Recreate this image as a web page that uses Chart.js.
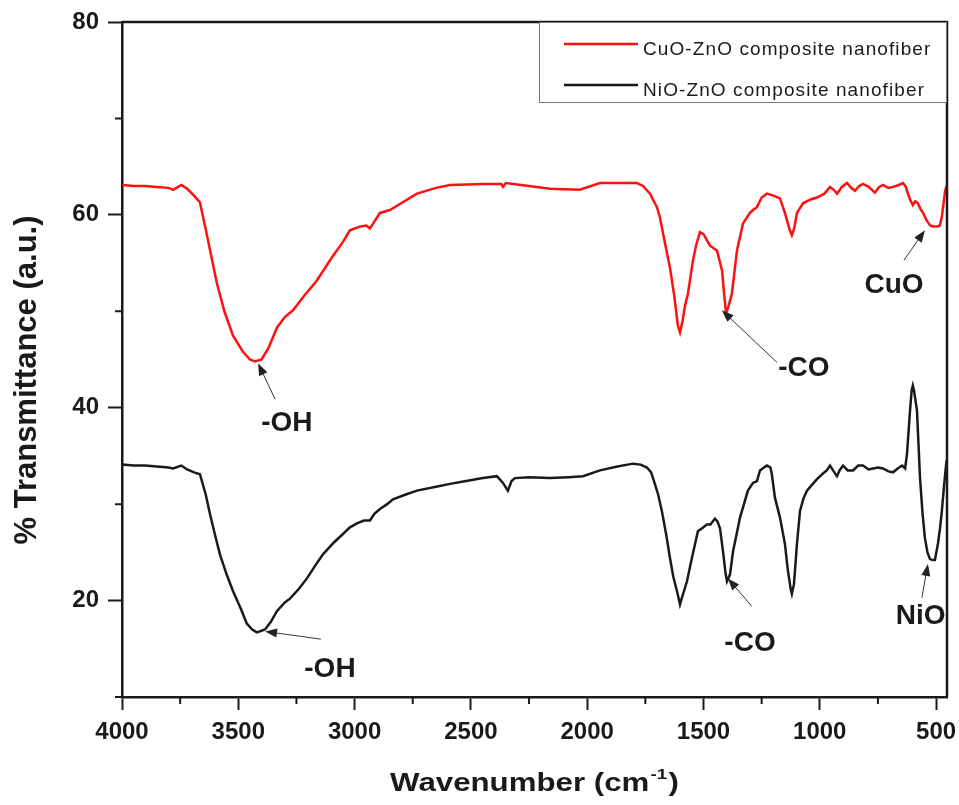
<!DOCTYPE html>
<html>
<head>
<meta charset="utf-8">
<script src="https://cdn.jsdelivr.net/npm/chart.js@4.4.0/dist/chart.umd.min.js"></script>
<style>
    html, body { margin: 0; padding: 0; background: #fff; }
    #wrap { width: 959px; height: 805px; }
</style>
</head>
<body>
<div id="wrap"><canvas id="ftirChart" width="959" height="805"></canvas></div>
<script>
// Seri adları ve renkleri
const seriesNames = ['CuO-ZnO composite nanofiber', 'NiO-ZnO composite nanofiber'];
const seriesColors = ['#ff1010', '#1a1a1a'];

// CuO-ZnO eğrisi (dalga sayısı, % geçirgenlik)
const cuoWn = [4000, 3950, 3900, 3850, 3800, 3780, 3745, 3720, 3690, 3665, 3640, 3610, 3592, 3560, 3523, 3480, 3450, 3428, 3400, 3370,
    3334, 3300, 3265, 3220, 3162, 3100, 3050, 3020, 2975, 2950, 2934, 2915, 2891, 2848, 2800, 2732, 2650, 2590, 2450, 2370,
    2362, 2350, 2250, 2160, 2031, 1945, 1850, 1786, 1760, 1730, 1700, 1687, 1665, 1644, 1625, 1610, 1601, 1590, 1580, 1567,
    1545, 1530, 1515, 1500, 1472, 1442, 1420, 1410, 1403, 1395, 1378, 1356, 1330, 1300, 1287, 1270, 1250, 1227, 1200, 1171,
    1150, 1130, 1120, 1110, 1098, 1072, 1040, 1012, 980, 956, 940, 926, 905, 883, 865, 849, 830, 814, 790, 763,
    745, 728, 705, 685, 660, 642, 630, 621, 610, 600, 590, 578, 567, 556, 540, 525, 513, 495, 484, 475,
    470, 461, 455];
const cuoT = [63.1, 63.0, 63.0, 62.9, 62.8, 62.6, 63.1, 62.7, 62.0, 61.3, 58.5, 55.0, 52.9, 50.0, 47.5, 45.8, 45.0, 44.8, 45.0, 46.2,
    48.3, 49.4, 50.1, 51.5, 53.2, 55.5, 57.2, 58.4, 58.8, 58.9, 58.6, 59.3, 60.2, 60.5, 61.2, 62.2, 62.8, 63.1, 63.2, 63.2,
    62.9, 63.3, 63.0, 62.7, 62.6, 63.3, 63.3, 63.3, 63.0, 62.2, 60.8, 59.7, 57.0, 54.5, 51.5, 48.5, 47.8, 49.0, 50.5, 51.8,
    55.3, 57.0, 58.2, 58.0, 56.8, 56.3, 54.2, 51.5, 49.8, 50.3, 51.8, 56.3, 59.1, 60.2, 60.5, 60.8, 61.8, 62.2, 62.0, 61.7,
    60.2, 58.5, 57.9, 58.6, 60.2, 61.2, 61.6, 61.8, 62.2, 62.9, 62.6, 62.2, 62.9, 63.3, 62.8, 62.5, 63.0, 63.2, 62.9, 62.3,
    62.9, 63.1, 62.8, 62.9, 63.1, 63.3, 62.9, 62.2, 61.5, 61.0, 61.4, 61.2, 60.6, 60.2, 59.4, 58.9, 58.8, 58.8, 58.9, 59.8,
    60.8, 62.5, 63.0];

// NiO-ZnO eğrisi
const nioWn = [4000, 3950, 3900, 3850, 3800, 3780, 3745, 3720, 3690, 3665, 3640, 3622, 3600, 3579, 3550, 3523, 3490, 3463, 3440, 3420,
    3385, 3360, 3334, 3300, 3278, 3240, 3205, 3170, 3136, 3090, 3050, 3020, 2990, 2960, 2934, 2915, 2891, 2860, 2835, 2780,
    2732, 2650, 2590, 2520, 2448, 2388, 2362, 2341, 2325, 2311, 2250, 2160, 2080, 2018, 1945, 1870, 1803, 1770, 1743, 1725,
    1709, 1695, 1679, 1660, 1644, 1630, 1614, 1601, 1590, 1571, 1550, 1535, 1524, 1500, 1485, 1470, 1451, 1440, 1429, 1416,
    1405, 1399, 1386, 1373, 1355, 1343, 1320, 1309, 1287, 1270, 1257, 1240, 1227, 1212, 1206, 1193, 1171, 1150, 1137, 1125,
    1120, 1111, 1098, 1085, 1070, 1055, 1030, 1012, 985, 970, 956, 940, 926, 915, 900, 880, 857, 835, 814, 790,
    771, 750, 728, 705, 685, 665, 646, 633, 625, 612, 605, 600, 595, 582, 569, 558, 548, 537, 526, 515,
    505, 492, 483, 475, 468, 461, 455];
const nioT = [34.1, 34.0, 34.0, 33.9, 33.8, 33.7, 34.0, 33.6, 33.3, 33.1, 31.0, 29.0, 26.8, 24.8, 22.7, 21.0, 19.2, 17.6, 17.0, 16.7,
    17.0, 17.8, 18.9, 19.8, 20.2, 21.2, 22.3, 23.6, 24.8, 26.0, 26.9, 27.6, 28.0, 28.3, 28.3, 29.0, 29.5, 30.0, 30.5, 31.0,
    31.4, 31.8, 32.1, 32.4, 32.7, 32.9, 32.2, 31.4, 32.4, 32.7, 32.8, 32.7, 32.8, 32.9, 33.5, 33.9, 34.2, 34.1, 33.8, 33.3,
    32.1, 31.0, 29.3, 26.8, 24.4, 22.5, 21.0, 19.6, 20.5, 22.0, 24.4, 26.0, 27.2, 27.6, 27.9, 27.9, 28.5, 28.2, 27.5, 25.1,
    22.8, 22.0, 22.7, 25.1, 27.2, 28.6, 30.5, 31.4, 32.2, 32.4, 33.5, 33.8, 34.0, 33.8, 33.1, 30.7, 28.6, 25.9, 23.1, 21.2,
    20.7, 21.7, 25.9, 29.3, 30.6, 31.4, 32.1, 32.6, 33.2, 33.5, 34.0, 33.4, 32.9, 33.5, 34.0, 33.5, 33.5, 34.0, 34.0, 33.6,
    33.7, 33.8, 33.7, 33.4, 33.3, 33.7, 34.0, 33.7, 35.2, 39.7, 41.8, 42.3, 41.8, 39.7, 32.7, 29.0, 26.5, 25.0, 24.3, 24.2,
    24.2, 25.9, 27.5, 29.3, 31.3, 33.1, 34.5];

// Eksen ölçekleri ve tik değerleri
const xMin = 453, xMax = 4000;
const yMin = 10, yMax = 80;
const xTicks = [4000, 3750, 3500, 3250, 3000, 2750, 2500, 2250, 2000, 1750, 1500, 1250, 1000, 750, 500];
const yTicks = [10, 20, 30, 40, 50, 60, 70, 80];

// Eksen başlıkları
const xTitle = 'Wavenumber (cm';
const xTitleSup = '-1';
const yTitle = '% Transmittance (a.u.)';

// Pik etiketleri: metin, ok ucu, ok kuyruğu, metin konumu (veri koordinatında)
const noteLabels = ['-OH', '-OH', '-CO', '-CO', 'CuO', 'NiO'];
const noteTip = [[3415, 44.6], [3385, 16.8], [1421, 50.1], [1395, 22.3], [548, 58.4], [535, 23.8]];
const noteTail = [[3342, 40.9], [3145, 16.0], [1184, 44.7], [1292, 19.4], [638, 55.3], [561, 20.3]];
const noteText = [[3291, 38.4], [3106, 12.9], [1068, 44.1], [1300, 15.6], [681, 52.7], [566, 18.4]];

const FONT = '"Liberation Sans", Arial, sans-serif';
Chart.defaults.font.family = FONT;
Chart.defaults.color = '#1a1a1a';

function toPoints(xs, ys) {
    return xs.map((x, i) => ({ x: x, y: ys[i] }));
}

// Ok çiz
function drawArrow(ctx, x1, y1, x2, y2) {
    const ang = Math.atan2(y2 - y1, x2 - x1);
    const len = 12, half = 4.5;
    ctx.strokeStyle = '#333';
    ctx.fillStyle = '#222';
    ctx.lineWidth = 1;
    ctx.beginPath();
    ctx.moveTo(x1, y1);
    ctx.lineTo(x2 - Math.cos(ang) * len * 0.8, y2 - Math.sin(ang) * len * 0.8);
    ctx.stroke();
    ctx.beginPath();
    ctx.moveTo(x2, y2);
    ctx.lineTo(x2 - Math.cos(ang) * len + Math.sin(ang) * half, y2 - Math.sin(ang) * len - Math.cos(ang) * half);
    ctx.lineTo(x2 - Math.cos(ang) * len - Math.sin(ang) * half, y2 - Math.sin(ang) * len + Math.cos(ang) * half);
    ctx.closePath();
    ctx.fill();
}

// Çerçeve, ara tikler, etiketler, lejant ve başlıklar
const extrasPlugin = {
    id: 'extras',
    afterDraw(chart) {
        const ctx = chart.ctx;
        const area = chart.chartArea;
        const xs = chart.scales.x;
        const ys = chart.scales.y;
        ctx.save();

        // üst ve sağ çerçeve
        ctx.strokeStyle = '#1a1a1a';
        ctx.lineWidth = 2.5;
        ctx.beginPath();
        ctx.moveTo(area.left, area.top);
        ctx.lineTo(area.right, area.top);
        ctx.lineTo(area.right, area.bottom);
        ctx.stroke();

        // ara tikler
        ctx.lineWidth = 2;
        ctx.beginPath();
        xTicks.filter(v => v % 500 !== 0).forEach(v => {
            const px = xs.getPixelForValue(v);
            ctx.moveTo(px, area.bottom);
            ctx.lineTo(px, area.bottom + 7);
        });
        yTicks.filter(v => v % 20 !== 0).forEach(v => {
            const py = ys.getPixelForValue(v);
            ctx.moveTo(area.left, py);
            ctx.lineTo(area.left - 7, py);
        });
        ctx.stroke();

        // pik etiketleri
        noteLabels.forEach((label, i) => {
            drawArrow(ctx,
                xs.getPixelForValue(noteTail[i][0]), ys.getPixelForValue(noteTail[i][1]),
                xs.getPixelForValue(noteTip[i][0]), ys.getPixelForValue(noteTip[i][1]));
            ctx.fillStyle = '#1a1a1a';
            ctx.font = 'bold 28px ' + FONT;
            ctx.textAlign = 'center';
            ctx.textBaseline = 'middle';
            ctx.fillText(label, xs.getPixelForValue(noteText[i][0]), ys.getPixelForValue(noteText[i][1]));
        });

        // lejant
        const boxW = 408, boxH = 80;
        const bx = area.right - boxW, by = area.top;
        ctx.fillStyle = '#fff';
        ctx.fillRect(bx, by, boxW, boxH);
        ctx.strokeStyle = '#777';
        ctx.lineWidth = 1;
        ctx.strokeRect(bx + 0.5, by + 0.5, boxW - 1, boxH);
        chart.data.datasets.forEach((ds, i) => {
            const ly = by + 22 + i * 41;
            ctx.strokeStyle = ds.borderColor;
            ctx.lineWidth = 2.5;
            ctx.beginPath();
            ctx.moveTo(bx + 25, ly);
            ctx.lineTo(bx + 99, ly);
            ctx.stroke();
            ctx.fillStyle = '#1a1a1a';
            ctx.font = '19px ' + FONT;
            ctx.textAlign = 'left';
            ctx.textBaseline = 'middle';
            if ('letterSpacing' in ctx) ctx.letterSpacing = '1.1px';
            ctx.fillText(ds.label, bx + 104, ly + 6);
            if ('letterSpacing' in ctx) ctx.letterSpacing = '0px';
        });

        // x ekseni başlığı (üst simgeli)
        ctx.fillStyle = '#1a1a1a';
        ctx.textBaseline = 'alphabetic';
        ctx.textAlign = 'left';
        ctx.font = 'bold 25px ' + FONT;
        const mainW = ctx.measureText(xTitle).width;
        ctx.font = 'bold 15px ' + FONT;
        const supW = ctx.measureText(xTitleSup).width;
        ctx.font = 'bold 25px ' + FONT;
        const closeW = ctx.measureText(')').width;
        const totalW = mainW + supW + closeW + 2;
        const sx = 1.25;
        ctx.save();
        ctx.translate((area.left + area.right) / 2 - totalW * sx / 2, 791);
        ctx.scale(sx, 1);
        ctx.fillText(xTitle, 0, 0);
        ctx.font = 'bold 15px ' + FONT;
        ctx.fillText(xTitleSup, mainW + 1, -12);
        ctx.font = 'bold 25px ' + FONT;
        ctx.fillText(')', mainW + supW + 2, 0);
        ctx.restore();

        // y ekseni başlığı
        ctx.save();
        ctx.translate(36, 380);
        ctx.rotate(-Math.PI / 2);
        ctx.font = 'bold 31px ' + FONT;
        ctx.textAlign = 'center';
        ctx.fillText(yTitle, 0, 0);
        ctx.restore();

        ctx.restore();
    }
};

const chartCtx = document.getElementById('ftirChart').getContext('2d');
const ftirChart = new Chart(chartCtx, {
    type: 'line',
    data: {
        datasets: [{
            label: seriesNames[0],
            data: toPoints(cuoWn, cuoT),
            borderColor: seriesColors[0],
            borderWidth: 2.5,
            pointRadius: 0,
            tension: 0
        }, {
            label: seriesNames[1],
            data: toPoints(nioWn, nioT),
            borderColor: seriesColors[1],
            borderWidth: 2.5,
            pointRadius: 0,
            tension: 0
        }]
    },
    options: {
        responsive: false,
        animation: false,
        layout: { padding: { top: 22, right: 12, left: 0, bottom: 0 } },
        plugins: {
            legend: { display: false },
            tooltip: { enabled: false }
        },
        scales: {
            x: {
                type: 'linear',
                reverse: true,
                min: xMin,
                max: xMax,
                afterBuildTicks: scale => { scale.ticks = xTicks.map(v => ({ value: v })); },
                afterFit: scale => {
                    scale.height = 108;
                    scale.paddingLeft = 0;
                    scale.paddingRight = 0;
                },
                ticks: {
                    autoSkip: false,
                    maxRotation: 0,
                    padding: 8,
                    color: '#1a1a1a',
                    font: { size: 24, weight: 'bold' },
                    callback: v => (v % 500 === 0 ? String(v) : '')
                },
                grid: {
                    drawOnChartArea: false,
                    drawTicks: true,
                    tickLength: 13,
                    tickWidth: 2,
                    tickColor: c => (c.tick && c.tick.value % 500 === 0 ? '#1a1a1a' : 'rgba(0,0,0,0)')
                },
                border: { color: '#1a1a1a', width: 2.5 }
            },
            y: {
                min: yMin,
                max: yMax,
                afterBuildTicks: scale => { scale.ticks = yTicks.map(v => ({ value: v })); },
                afterFit: scale => {
                    scale.width = 122;
                    scale.paddingTop = 0;
                    scale.paddingBottom = 0;
                },
                ticks: {
                    padding: 9,
                    color: '#1a1a1a',
                    font: { size: 24, weight: 'bold' },
                    callback: v => (v % 20 === 0 ? String(v) : '')
                },
                grid: {
                    drawOnChartArea: false,
                    drawTicks: true,
                    tickLength: 14,
                    tickWidth: 2,
                    tickColor: c => (c.tick && c.tick.value % 20 === 0 ? '#1a1a1a' : 'rgba(0,0,0,0)')
                },
                border: { color: '#1a1a1a', width: 2.5 }
            }
        }
    },
    plugins: [extrasPlugin]
});
</script>
</body>
</html>
